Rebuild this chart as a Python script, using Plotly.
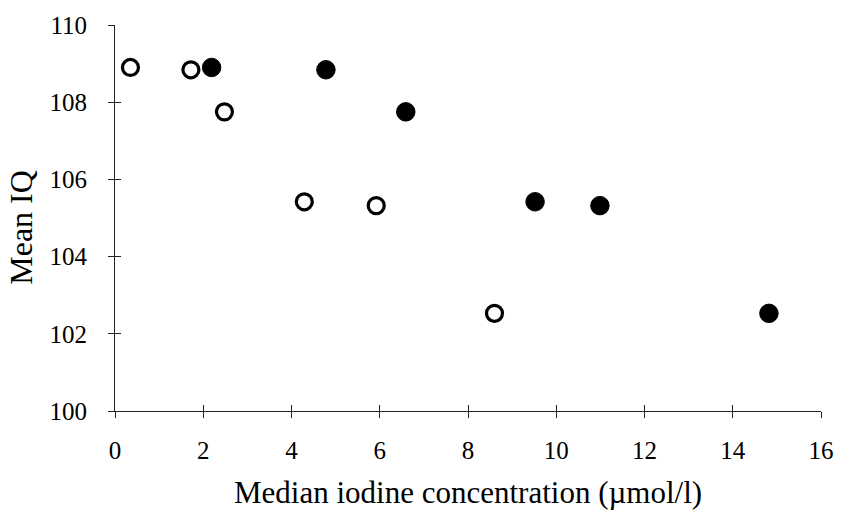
import plotly.graph_objects as go

# Data
open_x = [0.35, 1.72, 2.48, 4.29, 5.92, 8.60]
open_y = [108.9, 108.84, 107.75, 105.42, 105.32, 102.53]
filled_x = [2.19, 4.78, 6.59, 9.52, 10.99, 14.82]
filled_y = [108.9, 108.84, 107.75, 105.42, 105.32, 102.53]

x_ticks = [0, 2, 4, 6, 8, 10, 12, 14, 16]
y_ticks = [100, 102, 104, 106, 108, 110]
x_title = "Median iodine concentration (\u00b5mol/l)"
y_title = "Mean IQ"

FONT = "Liberation Serif, Times New Roman, serif"
AX = "#222222"

fig = go.Figure()
fig.add_trace(go.Scatter(
    x=open_x, y=open_y, mode="markers", showlegend=False, cliponaxis=False,
    marker=dict(symbol="circle", size=16, color="white",
                line=dict(color="black", width=3.2)),
))
fig.add_trace(go.Scatter(
    x=filled_x, y=filled_y, mode="markers", showlegend=False, cliponaxis=False,
    marker=dict(symbol="circle", size=18.5, color="black",
                line=dict(color="black", width=1)),
))
# dummy trace to create the overlay axes (inside half of crossing ticks)
fig.add_trace(go.Scatter(x=[None], y=[None], xaxis="x2", yaxis="y2",
                         showlegend=False, hoverinfo="skip"))

common = dict(showgrid=False, zeroline=False, ticks="outside", ticklen=6,
              tickwidth=1, tickcolor=AX, showline=True, linecolor=AX,
              linewidth=1, tickfont=dict(family=FONT, size=25, color="black"))

fig.update_layout(
    width=846, height=512,
    margin=dict(l=115, r=15, t=15, b=101),
    paper_bgcolor="white", plot_bgcolor="white",
    font=dict(family=FONT, color="black"),
    xaxis=dict(range=[0, 16], tickmode="array", tickvals=x_ticks,
               ticklabelstandoff=11, **common),
    yaxis=dict(range=[100, 110], tickmode="array", tickvals=y_ticks,
               ticklabelstandoff=16, **common),
    xaxis2=dict(range=[0, 16], overlaying="x", anchor="y2", side="bottom",
                tickmode="array", tickvals=x_ticks, ticks="inside", ticklen=6,
                tickcolor=AX, showticklabels=False, showgrid=False,
                zeroline=False, showline=False),
    yaxis2=dict(range=[100, 110], overlaying="y", anchor="x2", side="left",
                tickmode="array", tickvals=y_ticks, ticks="inside", ticklen=6,
                tickcolor=AX, showticklabels=False, showgrid=False,
                zeroline=False, showline=False),
    annotations=[
        dict(text=x_title, xref="paper", yref="paper", x=0.5, y=-0.212,
             xanchor="center", yanchor="middle", showarrow=False,
             font=dict(family=FONT, size=31, color="black")),
        dict(text=y_title, xref="paper", yref="paper", x=-0.133, y=0.475,
             xanchor="center", yanchor="middle", showarrow=False,
             textangle=-90, font=dict(family=FONT, size=32, color="black")),
    ],
)

fig.write_html("out.html")
